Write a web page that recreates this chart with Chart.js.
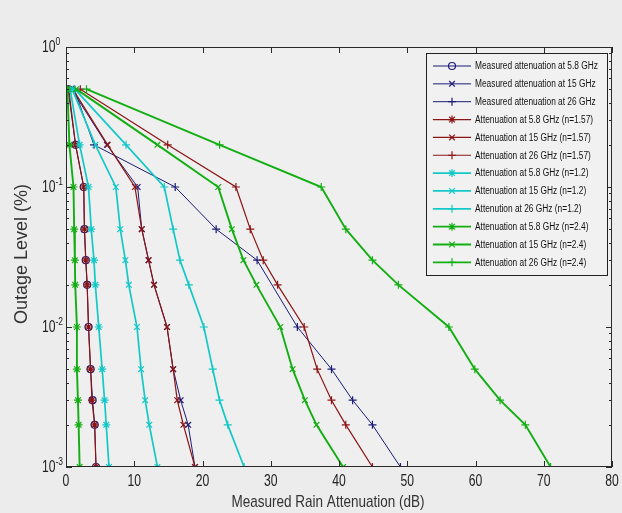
<!DOCTYPE html>
<html lang="en">
<head>
<meta charset="UTF-8">
<title>Outage Level vs Measured Rain Attenuation</title>
<script src="https://cdn.jsdelivr.net/npm/chart.js"></script>
<style>
    html, body { margin: 0; padding: 0; background: #ececec; }
    #wrap { width: 622px; height: 513px; }
</style>
</head>
<body>
<div id="wrap"><canvas id="rainChart" width="622" height="513"></canvas></div>
<script>
// --- DATA ---
// outage levels (%) shared by all curves
const outageLevels = [0.5, 0.2, 0.1, 0.05, 0.03, 0.02, 0.01, 0.005, 0.003, 0.002, 0.001];

// rain attenuation (dB) at each outage level, null = no point
const measured58 = [0.3, 1.4, 2.6, 2.7, 2.9, 3.1, 3.3, 3.6, 3.9, 4.2, 4.4];
const measured15 = [0.8, 6.0, 10.5, 11.1, 12.1, 12.9, 14.8, 15.7, 16.8, 17.9, 18.9];
const measured26 = [1.2, 4.1, 16.0, 22.0, 28.0, null, 33.9, 38.9, 42.0, 44.9, 49.0];
const att58n157 = [0.4, 1.4, 2.6, 2.7, 2.9, 3.1, 3.3, 3.6, 3.8, 4.2, 4.4];
const att15n157 = [1.0, 6.1, 10.1, 11.1, 12.1, 12.9, 14.8, 15.7, 16.3, 17.2, 18.9];
const att26n157 = [2.1, 14.9, 24.9, 27.0, 28.9, 31.0, 34.9, 36.8, 38.9, 41.0, 44.9];
const att58n12 = [0.6, 2.0, 3.3, 3.7, 4.1, 4.3, 4.8, 5.3, 5.65, 5.9, 6.3];
const att15n12 = [0.9, 4.3, 7.3, 7.95, 8.7, 9.2, 10.4, 11.0, 11.6, 12.2, 13.4];
const att26n12 = [1.3, 8.8, 14.4, 15.7, 16.7, 18.0, 20.2, 21.5, 22.5, 23.7, 26.1];
const att58n24 = [0.2, 0.5, 1.1, 1.2, 1.3, 1.35, 1.6, 1.6, 1.75, 1.85, 2.0];
const att15n24 = [1.5, 13.4, 22.3, 24.3, 26.0, 27.9, 31.4, 33.2, 35.0, 36.7, 40.6];
const att26n24 = [3.0, 22.5, 37.4, 41.0, 44.9, 48.7, 56.1, 59.9, 63.6, 67.3, 71.0];

const seriesLabels = [
    'Measured attenuation at 5.8 GHz',
    'Measured attenuation at 15 GHz',
    'Measured attenuation at 26 GHz',
    'Attenuation at 5.8 GHz (n=1.57)',
    'Attenuation at 15 GHz (n=1.57)',
    'Attenuation at 26 GHz (n=1.57)',
    'Attenuation at 5.8 GHz (n=1.2)',
    'Attenuation at 15 GHz (n=1.2)',
    'Attenution at 26 GHz (n=1.2)',
    'Attenuation at 5.8 GHz (n=2.4)',
    'Attenuation at 15 GHz (n=2.4)',
    'Attenuation at 26 GHz (n=2.4)'
];
const seriesValues = [measured58, measured15, measured26, att58n157, att15n157, att26n157,
                      att58n12, att15n12, att26n12, att58n24, att15n24, att26n24];

const xTicks = [0, 10, 20, 30, 40, 50, 60, 70, 80];
const yDecades = [0.001, 0.01, 0.1, 1];
const yExponents = ['-3', '-2', '-1', '0'];
const xTitle = 'Measured Rain Attenuation (dB)';
const yTitle = 'Outage Level (%)';

// --- STYLE ---
const FONT = "'Liberation Sans', Arial, sans-serif";
const SQUEEZE = 0.76; // the original lettering is narrow
const navy = '#1c1c78', red = '#8c1414', cyan = '#14c8c8', green = '#12ae12';
const styles = [
    { color: navy, marker: 'circle', width: 1 },
    { color: navy, marker: 'crossRot', width: 1 },
    { color: navy, marker: 'cross', width: 1 },
    { color: red, marker: 'star', width: 1.2 },
    { color: red, marker: 'crossRot', width: 1.2 },
    { color: red, marker: 'cross', width: 1.2 },
    { color: cyan, marker: 'star', width: 1.7 },
    { color: cyan, marker: 'crossRot', width: 1.7 },
    { color: cyan, marker: 'cross', width: 1.7 },
    { color: green, marker: 'star', width: 1.9 },
    { color: green, marker: 'crossRot', width: 1.9 },
    { color: green, marker: 'cross', width: 1.9 }
];

const datasets = seriesValues.map((vals, i) => ({
    label: seriesLabels[i],
    data: outageLevels.map((o, k) => vals[k] == null ? null : { x: vals[k], y: o }).filter(p => p),
    showLine: true,
    borderColor: styles[i].color,
    borderWidth: styles[i].width,
    pointStyle: styles[i].marker,
    pointRadius: styles[i].marker === 'circle' ? 3.5 : 4,
    pointBorderWidth: 1.2,
    pointBorderColor: styles[i].color,
    pointBackgroundColor: 'rgba(0,0,0,0)',
    order: seriesValues.length - i
}));

function squeezedText(ctx, text, x, y, factor) {
    const w = ctx.measureText(text).width;
    ctx.fillText(text, x, y, w * factor);
}

// background, boxed axes with inward ticks, labels and the inside legend
const axesBox = {
    id: 'axesBox',
    beforeDraw(chart) {
        const { ctx, chartArea: a } = chart;
        ctx.save();
        ctx.fillStyle = '#ececec';
        ctx.fillRect(0, 0, chart.width, chart.height);
        ctx.fillStyle = '#efefef';
        ctx.fillRect(a.left, a.top, a.right - a.left, a.bottom - a.top);
        ctx.restore();
    },
    afterDraw(chart) {
        const { ctx, chartArea: a, scales: { x, y } } = chart;
        ctx.save();
        ctx.strokeStyle = '#2a2a2a';
        ctx.lineWidth = 1;
        ctx.strokeRect(a.left + 0.5, a.top + 0.5, a.right - a.left - 1, a.bottom - a.top - 1);

        ctx.beginPath();
        xTicks.forEach(v => {
            const px = Math.round(x.getPixelForValue(v)) + 0.5;
            ctx.moveTo(px, a.bottom); ctx.lineTo(px, a.bottom - 6);
            ctx.moveTo(px, a.top); ctx.lineTo(px, a.top + 6);
        });
        yDecades.forEach(d => {
            for (let m = 1; m < 10; m++) {
                if (d * m > 1.0001) break;
                const py = Math.round(y.getPixelForValue(d * m)) + 0.5;
                const len = m === 1 ? 6 : 3;
                ctx.moveTo(a.left, py); ctx.lineTo(a.left + len, py);
                ctx.moveTo(a.right, py); ctx.lineTo(a.right - len, py);
            }
        });
        ctx.stroke();

        // x tick labels
        ctx.fillStyle = '#222';
        ctx.textBaseline = 'middle';
        ctx.textAlign = 'center';
        ctx.font = '16px ' + FONT;
        xTicks.forEach(v => {
            squeezedText(ctx, String(v), x.getPixelForValue(v), a.bottom + 15, SQUEEZE);
        });

        // y labels 10^n
        ctx.textAlign = 'left';
        yDecades.forEach((d, i) => {
            const py = y.getPixelForValue(d);
            ctx.font = '16px ' + FONT;
            const w = ctx.measureText('10').width * SQUEEZE;
            ctx.fillText('10', 42, py + 1, w);
            ctx.font = '10px ' + FONT;
            squeezedText(ctx, yExponents[i], 42 + w, py - 5, 0.85);
        });

        // axis titles
        ctx.fillStyle = '#333';
        ctx.textAlign = 'center';
        ctx.font = '17px ' + FONT;
        ctx.fillText(xTitle, 328, 502, 193);
        ctx.save();
        ctx.translate(22, 254);
        ctx.rotate(-Math.PI / 2);
        ctx.font = '18px ' + FONT;
        ctx.fillText(yTitle, 0, 0, 150);
        ctx.restore();

        // legend
        const lx = 426, ly = 53, lw = 181, lh = 222;
        ctx.fillStyle = '#f1f1f1';
        ctx.fillRect(lx, ly, lw, lh);
        ctx.strokeStyle = '#222';
        ctx.lineWidth = 1;
        ctx.strokeRect(lx + 0.5, ly + 0.5, lw, lh);
        ctx.font = '10px ' + FONT;
        const legendSqueeze = 123 / ctx.measureText(seriesLabels[0]).width;
        ctx.textAlign = 'left';
        chart.data.datasets.forEach((ds, i) => {
            const cy = 66 + i * 17.85;
            ctx.strokeStyle = ds.borderColor;
            ctx.lineWidth = ds.borderWidth;
            ctx.beginPath();
            ctx.moveTo(433, cy); ctx.lineTo(471, cy);
            ctx.stroke();
            ctx.fillStyle = 'rgba(0,0,0,0)';
            ctx.lineWidth = ds.pointBorderWidth;
            Chart.helpers.drawPoint(ctx, {
                pointStyle: ds.pointStyle, radius: ds.pointRadius, rotation: 0, borderWidth: ds.pointBorderWidth
            }, 452, cy);
            ctx.fillStyle = '#111';
            ctx.font = '10px ' + FONT;
            squeezedText(ctx, ds.label, 475, cy + 0.5, legendSqueeze);
        });
        ctx.restore();
    }
};

new Chart(document.getElementById('rainChart'), {
    type: 'scatter',
    data: { datasets: datasets },
    plugins: [axesBox],
    options: {
        responsive: false,
        animation: false,
        devicePixelRatio: 1,
        layout: { padding: { top: 47, right: 10, left: 0, bottom: 0 } },
        plugins: { legend: { display: false }, tooltip: { enabled: false } },
        scales: {
            x: {
                type: 'linear', min: 0, max: 80, position: 'bottom',
                ticks: { display: false, stepSize: 10 },
                grid: { display: false, drawTicks: false },
                border: { display: false },
                afterFit(s) { s.height = 46; }
            },
            y: {
                type: 'logarithmic', min: 0.001, max: 1, position: 'left',
                ticks: { display: false },
                grid: { display: false, drawTicks: false },
                border: { display: false },
                afterFit(s) { s.width = 66; }
            }
        }
    }
});
</script>
</body>
</html>
